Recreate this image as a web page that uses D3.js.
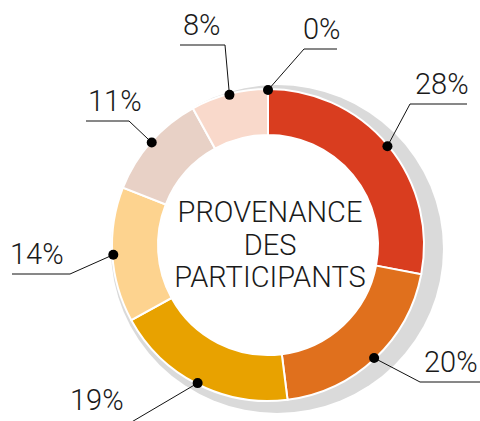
<!DOCTYPE html>
<html>
<head>
<meta charset="utf-8">
<script src="https://cdn.jsdelivr.net/npm/d3@7"></script>
<style>
  body { margin: 0; background: #fff; }
  svg text { font-family: Roboto, "Open Sans", sans-serif; font-weight: 300; fill: #1a1a1a; }
</style>
</head>
<body>
<div id="chart"></div>
<script>
// shares, clockwise from 12 o'clock
const values = [0, 28, 20, 19, 14, 11, 8];
const colors = ['#d93d1f', '#d93d1f', '#e0701d', '#e8a200', '#fdd38f', '#e8d1c6', '#f9d9cb'];
const titleLines = ['PROVENANCE', 'DES', 'PARTICIPANTS'];

// hand placed leader elbows (relative to the page), end of the horizontal tick, text x
const labelLayout = [
    { ex: 304, ey: 49,  hx: 337, tx: 303 },
    { ex: 410, ey: 104, hx: 467, tx: 415 },
    { ex: 420, ey: 382, hx: 480, tx: 424 },
    { ex: 118, ey: 430, hx: 66,  tx: 70, ty: 410 },
    { ex: 70,  ey: 274, hx: 12,  tx: 10 },
    { ex: 129, ey: 121, hx: 86,  tx: 88 },
    { ex: 225, ey: 45,  hx: 180, tx: 183 }
];

const width = 480, height = 421;
const cx = 268, cy = 245;
const outerR = 156, innerR = 110;

const svg = d3.select('#chart')
              .append('svg')
              .attr('width', width)
              .attr('height', height);

// grey shadow behind the ring
svg.append('ellipse')
   .attr('cx', cx + 9)
   .attr('cy', cy + 4)
   .attr('rx', outerR + 10)
   .attr('ry', outerR + 8)
   .attr('fill', '#dadada');

const pie = d3.pie().sort(null).value(d => d);
const arcs = pie(values);

const arc = d3.arc().innerRadius(innerR).outerRadius(outerR);

const ring = svg.append('g').attr('transform', `translate(${cx},${cy})`);

ring.selectAll('path')
    .data(arcs)
    .enter().append('path')
    .attr('d', arc)
    .attr('fill', (d, i) => colors[i])
    .attr('stroke', '#fff')
    .attr('stroke-width', 2);

ring.append('circle')
    .attr('r', innerR)
    .attr('fill', '#fff');

// leader lines + dots
const dotArc = d3.arc().innerRadius(outerR - 1).outerRadius(outerR - 1);

arcs.forEach((d, i) => {
    const mid = (d.startAngle + d.endAngle) / 2;
    const [dx, dy] = dotArc.centroid({ startAngle: mid, endAngle: mid });
    const p = [cx + dx, cy + dy];
    const l = labelLayout[i];

    svg.append('polyline')
       .attr('points', [p, [l.ex, l.ey], [l.hx, l.ey]].map(q => q.join(',')).join(' '))
       .attr('fill', 'none')
       .attr('stroke', '#111')
       .attr('stroke-width', 1);

    svg.append('circle')
       .attr('cx', p[0])
       .attr('cy', p[1])
       .attr('r', 5)
       .attr('fill', '#000');

    svg.append('text')
       .attr('x', l.tx)
       .attr('y', l.ty !== undefined ? l.ty : l.ey - 10)
       .attr('font-size', 29)
       .text(values[i] + '%');
});

// centre title
svg.append('g')
   .selectAll('text')
   .data(titleLines)
   .enter().append('text')
   .attr('x', cx + 2)
   .attr('y', (d, i) => 222 + i * 32.5)
   .attr('text-anchor', 'middle')
   .attr('font-size', 29)
   .text(d => d);
</script>
</body>
</html>
